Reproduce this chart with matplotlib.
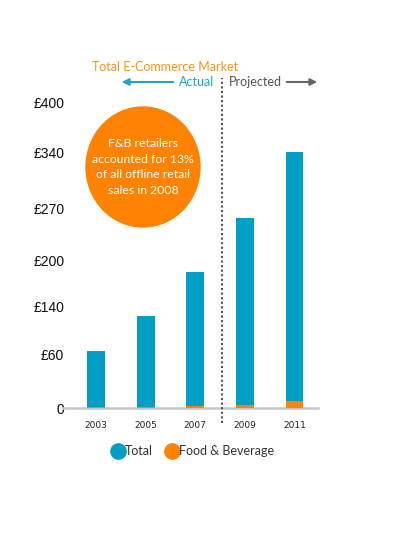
import matplotlib
matplotlib.use('Agg')
import matplotlib.pyplot as plt
from matplotlib.patches import Ellipse, FancyArrowPatch
from matplotlib.lines import Line2D
import numpy as np

W, H = 393, 559

years = ['2003', '2005', '2007', '2009', '2011']
total = [66, 124, 185, 257, 340]
food_bev = [1, 1, 2, 3.5, 8]

tick_vals = [0, 60, 140, 200, 270, 340, 400]
tick_labels = ['0', '£60', '£140', '£200', '£270', '£340', '£400']
# the labels in the source are not evenly spaced, so map them piecewise
tick_pos = [0, 53, 102, 147, 200, 256, 306]

BLUE = '#009fc6'
ORANGE = '#ff8200'


def fwd(v):
    return np.interp(v, tick_vals, tick_pos)


def inv(p):
    return np.interp(p, tick_pos, tick_vals)


def fpx(x, y):
    # figure pixel -> figure fraction
    return x / W, 1 - y / H


fig = plt.figure(figsize=(W / 100, H / 100), dpi=100)
ax = fig.add_axes([63 / W, 1 - 408 / H, 255 / W, 306 / H])
ax.set_yscale('function', functions=(fwd, inv))

x = np.arange(len(years))
ax.bar(x, total, width=0.36, color=BLUE, zorder=2)
ax.bar(x, food_bev, width=0.36, color=ORANGE, zorder=3)

ax.set_xlim(-0.665, 4.474)
ax.set_ylim(0, 400)

ax.set_xticks(x)
ax.set_xticklabels(years, fontsize=6.5, color='#222', family='DejaVu Sans')
ax.tick_params(axis='x', length=0, pad=9)
ax.set_yticks(tick_vals)
ax.set_yticklabels(tick_labels, fontsize=10, family='Liberation Sans', color='#111')
ax.tick_params(axis='y', length=0, pad=-1)
ax.yaxis.set_minor_locator(plt.NullLocator())

for s in ['top', 'right', 'left']:
    ax.spines[s].set_visible(False)
ax.spines['bottom'].set_color('#c8c8c8')
ax.spines['bottom'].set_linewidth(1.8)

# actual / projected divider
ax.axvline(2.54, ymin=-0.049, ymax=1.078, color='#555555', lw=1.5,
           ls=(0, (1, 1.2)), clip_on=False, zorder=4)

# headings
fig.text(*fpx(165, 67), 'Total E-Commerce Market', color='#f7941d',
         family='Lato', fontsize=9, ha='center', va='center')
fig.text(*fpx(214, 82), 'Actual', color='#1ea6c8',
         family='Lato', fontsize=9, ha='right', va='center')
fig.text(*fpx(229, 82), 'Projected', color='#555555',
         family='Lato', fontsize=9, ha='left', va='center')
fig.add_artist(FancyArrowPatch(fpx(176, 82), fpx(119, 82), transform=fig.transFigure,
                               arrowstyle='-|>', mutation_scale=10, color='#1ea6c8', lw=1.5))
fig.add_artist(FancyArrowPatch(fpx(284, 82), fpx(320, 82), transform=fig.transFigure,
                               arrowstyle='-|>', mutation_scale=10, color='#666666', lw=1.5))

# callout bubble
cx, cy = fpx(143, 167)
fig.add_artist(Ellipse((cx, cy), 114 / W, 120 / H, transform=fig.transFigure,
                       color=ORANGE, zorder=5))
fig.text(cx, cy, 'F&B retailers\naccounted for 13%\nof all offline retail\nsales in 2008',
         color='white', family='Lato', fontsize=8.8, ha='center', va='center',
         linespacing=1.5, zorder=6)

handles = [Line2D([], [], marker='o', ls='', ms=11, color=BLUE),
           Line2D([], [], marker='o', ls='', ms=11, color=ORANGE)]
fig.legend(handles, ['Total', 'Food & Beverage'], loc='center',
           bbox_to_anchor=fpx(193, 451), ncol=2, frameon=False,
           handletextpad=0.05, columnspacing=1.05, handlelength=1.0,
           prop={'family': 'Lato', 'size': 9}, labelcolor='#333333')

fig.savefig('out.png', dpi=100)
